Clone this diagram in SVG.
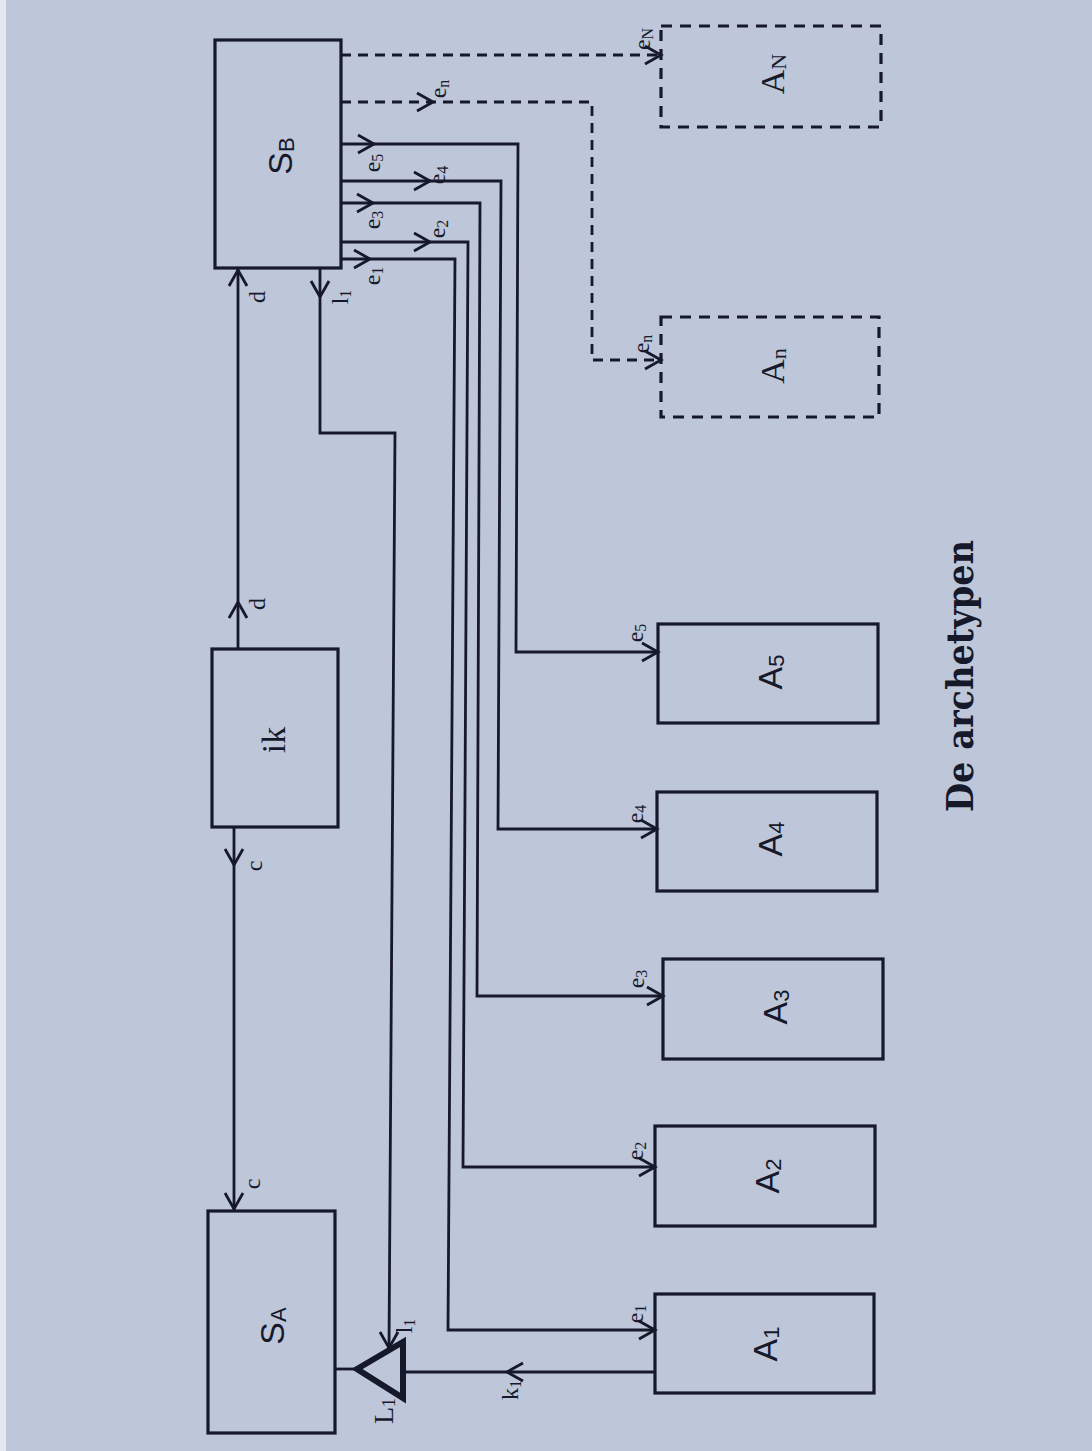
<svg xmlns="http://www.w3.org/2000/svg" xmlns:xlink="http://www.w3.org/1999/xlink" width="1092" height="1451" viewBox="0 0 1092 1451">
<style>
.box{fill:none;stroke:#16192a;stroke-width:3.2}
.dbox{fill:none;stroke:#16192a;stroke-width:3.2;stroke-dasharray:11 8}
.ln{fill:none;stroke:#16192a;stroke-width:2.8}
.dln{fill:none;stroke:#16192a;stroke-width:2.8;stroke-dasharray:10 7}
.lbl{font-family:"Liberation Serif","DejaVu Serif",serif;font-size:24px;fill:#16192a;text-anchor:middle;dominant-baseline:central}
.sub{font-size:16px}
.name{font-family:"Liberation Sans","DejaVu Sans",sans-serif;font-size:34px;fill:#16192a;text-anchor:middle;dominant-baseline:central}
.nsub{font-size:22px}
.title{font-family:"DejaVu Serif",serif;font-weight:bold;font-size:37px;fill:#16192a;text-anchor:middle;dominant-baseline:central}
</style>
<defs>
<path id="ah" d="M-16,-9 L0,0 L-16,9" fill="none" stroke="#16192a" stroke-width="2.8"/>
</defs>
<rect x="0" y="0" width="1092" height="1451" fill="#bec6d9"/>
<rect x="0" y="0" width="6" height="1451" fill="#e4e8f0"/>

<g id="connectors">
  <path class="ln" d="M238,268 V649"/>
  <use xlink:href="#ah" transform="translate(238,270) rotate(-90)"/>
  <use xlink:href="#ah" transform="translate(238,602) rotate(-90)"/>
  <path class="ln" d="M234,827 V1211"/>
  <use xlink:href="#ah" transform="translate(234,865) rotate(90)"/>
  <use xlink:href="#ah" transform="translate(234,1209) rotate(90)"/>
  <path class="ln" d="M320,268 V433 H395 L389,1349"/>
  <use xlink:href="#ah" transform="translate(320,297) rotate(90)"/>
  <use xlink:href="#ah" transform="translate(389,1348) rotate(90)"/>
  <path class="ln" d="M335,1369 H357"/>
  <path class="ln" d="M403,1372 H655"/>
  <use xlink:href="#ah" transform="translate(507,1372) rotate(180)"/>
  <path class="ln" d="M341,144 H518 L516,652 H658"/>
  <use xlink:href="#ah" transform="translate(374,144)"/>
  <use xlink:href="#ah" transform="translate(658,652)"/>
  <path class="ln" d="M341,181 H501 L498,829 H657"/>
  <use xlink:href="#ah" transform="translate(430,181)"/>
  <use xlink:href="#ah" transform="translate(657,829)"/>
  <path class="ln" d="M341,203 H480 L477,996 H663"/>
  <use xlink:href="#ah" transform="translate(373,203)"/>
  <use xlink:href="#ah" transform="translate(663,996)"/>
  <path class="ln" d="M341,242 H468 L463,1167 H655"/>
  <use xlink:href="#ah" transform="translate(430,242)"/>
  <use xlink:href="#ah" transform="translate(655,1167)"/>
  <path class="ln" d="M341,259 H455 L448,1330 H655"/>
  <use xlink:href="#ah" transform="translate(370,259)"/>
  <use xlink:href="#ah" transform="translate(655,1330)"/>
  <path class="dln" d="M341,102 H592 V360 H661"/>
  <use xlink:href="#ah" transform="translate(433,102)"/>
  <use xlink:href="#ah" transform="translate(661,360)"/>
  <path class="dln" d="M341,55 H661"/>
  <use xlink:href="#ah" transform="translate(661,55)"/>

  <text class="lbl" transform="translate(257,297) rotate(-90)">d</text>
  <text class="lbl" transform="translate(257,604) rotate(-90)">d</text>
  <text class="lbl" transform="translate(254,866) rotate(-90)">c</text>
  <text class="lbl" transform="translate(252,1184) rotate(-90)">c</text>
  <text class="lbl" transform="translate(340,297) rotate(-90)">l<tspan class="sub" dy="5">1</tspan></text>
  <text class="lbl" transform="translate(404,1326) rotate(-90)">l<tspan class="sub" dy="5">1</tspan></text>
  <text class="lbl" transform="translate(510,1390) rotate(-90)">k<tspan class="sub" dy="5">1</tspan></text>
  <text class="lbl" transform="translate(372,163) rotate(-90)">e<tspan class="sub" dy="5">5</tspan></text>
  <text class="lbl" transform="translate(437,175) rotate(-90)">e<tspan class="sub" dy="5">4</tspan></text>
  <text class="lbl" transform="translate(372,220) rotate(-90)">e<tspan class="sub" dy="5">3</tspan></text>
  <text class="lbl" transform="translate(437,229) rotate(-90)">e<tspan class="sub" dy="5">2</tspan></text>
  <text class="lbl" transform="translate(372,276) rotate(-90)">e<tspan class="sub" dy="5">1</tspan></text>
  <text class="lbl" transform="translate(438,89) rotate(-90)">e<tspan class="sub" dy="5">n</tspan></text>
  <text class="lbl" transform="translate(641,344) rotate(-90)">e<tspan class="sub" dy="5">n</tspan></text>
  <text class="lbl" transform="translate(642,39) rotate(-90)">e<tspan class="sub" dy="5">N</tspan></text>
  <text class="lbl" transform="translate(635,633) rotate(-90)">e<tspan class="sub" dy="5">5</tspan></text>
  <text class="lbl" transform="translate(635,814) rotate(-90)">e<tspan class="sub" dy="5">4</tspan></text>
  <text class="lbl" transform="translate(636,979) rotate(-90)">e<tspan class="sub" dy="5">3</tspan></text>
  <text class="lbl" transform="translate(635,1151) rotate(-90)">e<tspan class="sub" dy="5">2</tspan></text>
  <text class="lbl" transform="translate(635,1314) rotate(-90)">e<tspan class="sub" dy="5">1</tspan></text>
</g>

<g id="SB">
  <rect class="box" x="215" y="40" width="126" height="228"/>
  <text class="name" transform="translate(280,156) rotate(-90)">S<tspan class="nsub" dy="6">B</tspan></text>
</g>
<g id="ik">
  <rect class="box" x="212" y="649" width="126" height="178"/>
  <text class="name" style="font-family:'Liberation Serif','DejaVu Serif',serif" transform="translate(273,740) rotate(-90)">ik</text>
</g>
<g id="SA">
  <rect class="box" x="208" y="1211" width="127" height="222"/>
  <text class="name" transform="translate(272,1326) rotate(-90)">S<tspan class="nsub" dy="6">A</tspan></text>
</g>
<g id="L1">
  <polygon points="357,1369 403,1342 403,1398" fill="none" stroke="#16192a" stroke-width="6" stroke-linejoin="miter"/>
  <text class="lbl" style="font-size:28px" transform="translate(383,1411) rotate(-90)">L<tspan class="sub" style="font-size:18px" dy="6">1</tspan></text>
</g>
<g id="A5">
  <rect class="box" x="658" y="624" width="220" height="99"/>
  <text class="name" transform="translate(770,672) rotate(-90)">A<tspan class="nsub" dy="6">5</tspan></text>
</g>
<g id="A4">
  <rect class="box" x="657" y="792" width="220" height="99"/>
  <text class="name" transform="translate(770,839) rotate(-90)">A<tspan class="nsub" dy="6">4</tspan></text>
</g>
<g id="A3">
  <rect class="box" x="663" y="959" width="220" height="100"/>
  <text class="name" transform="translate(775,1007) rotate(-90)">A<tspan class="nsub" dy="6">3</tspan></text>
</g>
<g id="A2">
  <rect class="box" x="655" y="1126" width="220" height="100"/>
  <text class="name" transform="translate(767,1176) rotate(-90)">A<tspan class="nsub" dy="6">2</tspan></text>
</g>
<g id="A1">
  <rect class="box" x="655" y="1294" width="219" height="99"/>
  <text class="name" transform="translate(765,1344) rotate(-90)">A<tspan class="nsub" dy="6">1</tspan></text>
</g>
<g id="An">
  <rect class="dbox" x="661" y="317" width="218" height="100"/>
  <text class="name" style="font-family:'Liberation Serif','DejaVu Serif',serif" transform="translate(772,366) rotate(-90)">A<tspan class="nsub" dy="6">n</tspan></text>
</g>
<g id="AN">
  <rect class="dbox" x="661" y="26" width="220" height="101"/>
  <text class="name" style="font-family:'Liberation Serif','DejaVu Serif',serif" transform="translate(772,74) rotate(-90)">A<tspan class="nsub" dy="6">N</tspan></text>
</g>

<g id="title">
  <text class="title" transform="translate(960,676) rotate(-90)" textLength="272" lengthAdjust="spacingAndGlyphs">De archetypen</text>
</g>
</svg>
